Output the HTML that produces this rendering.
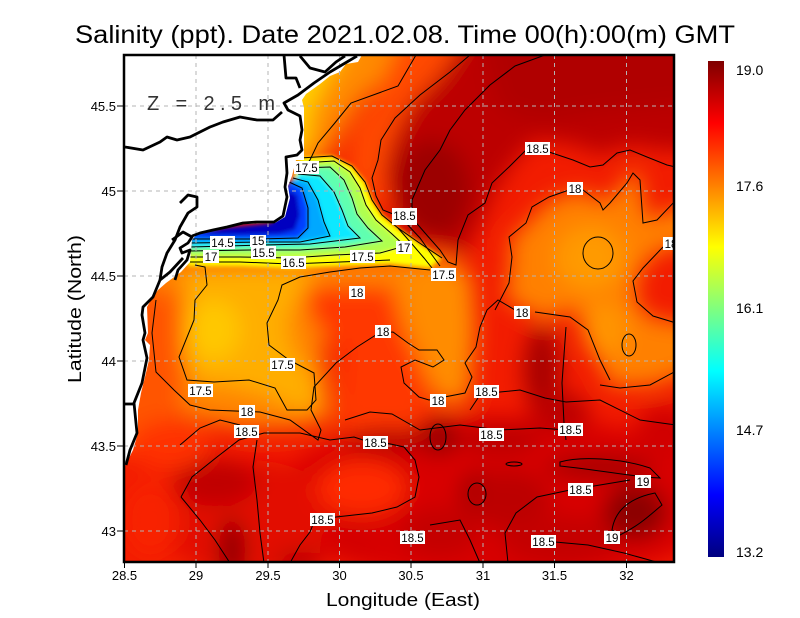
<!DOCTYPE html>
<html><head><meta charset="utf-8"><style>
html,body{margin:0;padding:0;background:#fff;}
svg{display:block;}
text{font-family:"Liberation Sans",Arial,sans-serif;}
</style></head><body>
<svg width="800" height="618" viewBox="0 0 800 618" xmlns="http://www.w3.org/2000/svg">
<defs>
<clipPath id="plot"><rect x="124" y="55" width="551" height="508"/></clipPath>
<filter id="b1" filterUnits="userSpaceOnUse" x="40" y="0" width="760" height="640"><feGaussianBlur stdDeviation="11"/></filter>
<filter id="b3" filterUnits="userSpaceOnUse" x="40" y="0" width="760" height="640"><feGaussianBlur stdDeviation="2.2"/></filter>
<linearGradient id="jet" x1="0" y1="1" x2="0" y2="0">
<stop offset="0" stop-color="#00007f"/>
<stop offset="0.125" stop-color="#0000ff"/>
<stop offset="0.375" stop-color="#00ffff"/>
<stop offset="0.625" stop-color="#ffff00"/>
<stop offset="0.875" stop-color="#ff0000"/>
<stop offset="1" stop-color="#7f0000"/>
</linearGradient>
</defs>
<rect width="800" height="618" fill="#fff"/>

<g clip-path="url(#plot)">
<rect x="100" y="40" width="600" height="540" fill="#f21c00"/>
<g filter="url(#b1)">
 <ellipse cx="500" cy="500" rx="230" ry="85" fill="#d80000"/>
 <ellipse cx="250" cy="520" rx="90" ry="60" fill="#e20800"/>
 <polygon fill="#bc0000" points="455,30 720,30 720,150 660,150 630,145 600,155 575,145 535,140 515,160 495,190 480,225 462,258 440,245 420,220 395,200 385,170 392,135 415,100 440,70"/>
 <polygon fill="#b00000" points="480,30 720,30 720,100 600,112 540,122 500,110"/>
 <ellipse cx="432" cy="190" rx="38" ry="50" fill="#9c0000"/>
 <polygon fill="#ff8a00" points="270,30 420,30 395,70 362,100 342,130 326,160 300,178 270,160"/>
 <polygon fill="#ffd000" points="270,40 352,40 328,78 312,110 306,150 275,150"/>
 <polygon fill="#ff4a00" points="405,30 470,30 440,75 410,105 392,140 382,180 386,210 362,200 346,170 352,130 376,95"/>
 <polygon fill="#ff8400" points="140,255 300,255 450,258 472,275 476,330 470,400 440,405 415,360 400,335 380,330 340,335 322,342 332,420 290,428 240,428 190,418 160,398 140,360"/>
 <polygon fill="#ffae00" points="185,272 250,268 320,270 302,290 287,320 292,350 315,380 318,405 300,412 270,396 230,386 195,382 182,356 186,315"/>
 <ellipse cx="214" cy="330" rx="26" ry="30" fill="#ffc800"/>
 <polygon fill="#ff3800" points="310,286 392,286 404,330 424,370 430,410 412,432 342,432 338,400 342,348 316,326 306,302"/>
 <polygon fill="#ff8c00" points="410,268 455,264 472,290 472,350 466,400 440,405 424,370 410,335 404,300"/>
 <polygon fill="#ff8000" points="505,300 510,265 510,240 530,220 550,200 580,190 600,200 615,195 630,172 640,175 645,215 660,215 700,200 700,245 660,250 640,270 635,300 650,318 700,325 700,370 650,386 610,386 590,345 575,310 545,320"/>
 <ellipse cx="590" cy="258" rx="35" ry="32" fill="#ff9a00"/>
 <ellipse cx="605" cy="330" rx="22" ry="28" fill="#ff9400"/>
 <polygon fill="#ff5500" points="110,290 178,290 186,380 176,420 150,452 110,452"/>
 <ellipse cx="542" cy="370" rx="18" ry="45" fill="#a80000"/>
 <ellipse cx="438" cy="437" rx="20" ry="18" fill="#900000"/>
 <ellipse cx="478" cy="494" rx="18" ry="22" fill="#960000"/>
 <ellipse cx="600" cy="467" rx="55" ry="11" fill="#a00000"/>
 <ellipse cx="635" cy="512" rx="32" ry="28" fill="#8c0000"/>
 <ellipse cx="232" cy="550" rx="13" ry="32" fill="#8c0000"/>
 <ellipse cx="300" cy="562" rx="22" ry="10" fill="#b00000"/>
 <ellipse cx="215" cy="482" rx="42" ry="24" fill="#c00000"/>
 <ellipse cx="390" cy="440" rx="45" ry="12" fill="#b60000"/>
 <ellipse cx="510" cy="500" rx="40" ry="30" fill="#bc0000"/>
 <ellipse cx="560" cy="540" rx="60" ry="25" fill="#c40000"/>
 <ellipse cx="440" cy="532" rx="40" ry="25" fill="#c40000"/>
 <ellipse cx="500" cy="440" rx="40" ry="15" fill="#bc0000"/>
 <ellipse cx="560" cy="412" rx="30" ry="20" fill="#bc0000"/>
 <ellipse cx="665" cy="430" rx="30" ry="25" fill="#d00000"/>
 <ellipse cx="350" cy="542" rx="30" ry="20" fill="#d40000"/>
 <ellipse cx="362" cy="488" rx="45" ry="28" fill="#ff2c00"/>
 <ellipse cx="170" cy="445" rx="40" ry="25" fill="#ff3000"/>
 <ellipse cx="150" cy="520" rx="30" ry="40" fill="#f82000"/>
</g>
<!-- plume -->
<g filter="url(#b3)">
 <polygon fill="#ffff00" points="300,158 332,156 352,166 365,182 372,200 382,215 398,228 418,242 442,258 430,268 390,264 340,266 290,268 240,266 188,266 186,258 200,246 270,245"/>
 <polygon fill="#b0ff50" points="302,163 334,161 350,172 360,188 366,205 376,220 392,234 405,246 380,253 335,255 290,258 240,257 188,257 188,249 270,246"/>
 <polygon fill="#60ffb0" points="300,168 330,167 344,180 352,198 357,214 368,228 382,241 345,247 300,250 250,250 190,251 190,245 270,242"/>
 <polygon fill="#10e8ff" points="298,174 320,176 334,192 342,210 348,226 360,238 310,244 262,245 190,247 190,241 275,234"/>
 <polygon fill="#00a8ff" points="293,178 308,182 318,200 324,222 330,236 300,242 262,242 190,243 190,236 275,229"/>
 <polygon fill="#0040ff" points="289,182 302,188 308,208 308,228 298,238 258,239 190,239 190,231 275,225"/>
 <polygon fill="#0000c0" points="285,188 297,195 300,215 295,230 280,234 240,235 200,235 222,228 272,223"/>
</g>
<g fill="none" stroke="#000" stroke-width="1">
 <polyline points="302,163 334,161 350,172 360,188 366,205 376,220 392,234 405,246 380,253 335,255 290,258 240,257 190,257"/>
 <polyline points="300,168 330,167 344,180 352,198 357,214 368,228 382,241 345,247 300,250 250,250 190,251"/>
 <polyline points="298,174 320,176 334,192 342,210 348,226 360,238 310,244 262,245 190,247"/>
 <polyline points="293,178 308,182 318,200 324,222 330,236 300,242 262,242 190,243"/>
 <polyline points="289,182 302,188 308,208 308,228 298,238 258,239 190,239"/>
 <polyline points="300,158 332,156 352,166 365,182 372,200 382,215 398,228 418,242 442,258"/>
 <polyline points="190,262 240,262 290,264 340,262 390,260"/>
</g>

<!-- land -->
<polygon fill="#fff" points="100,40 362,40 362,55 358,62 346,64 340,72 330,76 320,84 306,94 302,100 304,108 304,160 296,160 292,176 288,186 290,198 285,217 275,223 243,224 227,228 213,231 197,234 192,240 190,262 181,272 166,283 158,290 152,298 147,307 148,333 145,340 150,345 149,360 145,377 141,393 138,410 138,433 133,450 127,462 124,467 100,470"/>

<!-- grid -->
<g stroke="#b4b4b4" stroke-width="1" stroke-dasharray="4,4">
 <line x1="196" y1="55" x2="196" y2="563"/>
 <line x1="268" y1="55" x2="268" y2="563"/>
 <line x1="339.5" y1="55" x2="339.5" y2="563"/>
 <line x1="411" y1="55" x2="411" y2="563"/>
 <line x1="483" y1="55" x2="483" y2="563"/>
 <line x1="554.5" y1="55" x2="554.5" y2="563"/>
 <line x1="626.5" y1="55" x2="626.5" y2="563"/>
 <line x1="124" y1="106" x2="675" y2="106"/>
 <line x1="124" y1="191" x2="675" y2="191"/>
 <line x1="124" y1="276" x2="675" y2="276"/>
 <line x1="124" y1="361" x2="675" y2="361"/>
 <line x1="124" y1="446" x2="675" y2="446"/>
 <line x1="124" y1="531" x2="675" y2="531"/>
</g>

<!-- contours -->
<g fill="none" stroke="#000" stroke-width="1">
 <polyline points="416,55 398,86 351,103 334,124 318,143 310,160 305,166"/>
 <polyline points="470,55 450,72 420,95 395,118 381,140 378,160 372,178 376,196 383,210 398,216"/>
 <polyline points="545,55 515,66 490,85 465,110 450,130 440,150 425,170 412,200 412,218 425,233 440,250 448,262 456,265 458,240 468,215 485,203 492,183 509,167 526,150"/>
 <polyline points="405,222 420,238 432,255 440,266"/>
 <polyline points="398,228 412,244 424,258 432,268"/>
 <polyline points="549,152 573,160 590,167 603,165 617,153 630,150 647,157 667,165 680,168"/>
 <polyline points="495,310 509,283 512,257 509,237 526,223 532,207 549,197 569,190 583,190 600,203 603,210 610,203 627,183 633,173 640,180 643,223 657,220 676,200"/>
 <polyline points="663,247 643,268 633,281 637,302 653,316 676,323"/>
 <polyline points="600,385 620,388 650,385 676,371"/>
 <polyline points="535,312 570,317 588,330 600,360 610,380"/>
 <polyline points="566,327 562,383 564,423 566,440"/>
 <ellipse cx="598" cy="253" rx="15" ry="16"/>
 <ellipse cx="629" cy="345" rx="7" ry="11"/>
 <polyline points="195,265 205,267 207,285 195,300 194,320 179,357 187,380 214,382 249,380 275,388 287,410 307,410 316,400 314,373 289,360 269,345 267,323 278,300 282,285 300,277 330,272 360,268 390,266 430,270"/>
 <polyline points="156,300 152,333 156,372 174,390 190,405 210,410 235,411 260,412 290,420 318,440 321,430 311,410 314,387 336,363 357,347 379,333 393,332 408,343 419,350 437,350 444,360 433,367 415,360 401,367 404,383 419,397 429,400 465,393 472,377 465,363 476,347 480,327 487,310 498,300 515,310"/>
 <polyline points="181,497 192,477 217,457 239,440 264,433 300,433 330,440 354,437 372,443 386,443 404,447 415,460 419,477 415,497 397,507 372,513 336,517 314,522 310,532 300,545 290,563"/>
 <polyline points="181,497 200,520 215,540 230,563"/>
 <polyline points="257,440 253,467 257,500 260,533 264,563"/>
 <polyline points="508,563 505,533 516,513 537,497 570,490 600,485 630,480"/>
 <polyline points="555,542 588,545 624,553 660,563"/>
 <polyline points="430,525 460,520 470,540 480,563"/>
 <path d="M560,462 C580,456 620,458 650,468 L660,478 C640,478 600,470 560,466 Z"/>
 <path d="M612,530 C615,510 630,498 655,493 L662,505 C650,515 640,525 620,535 Z"/>
 <ellipse cx="438" cy="437" rx="8" ry="13"/>
 <ellipse cx="477" cy="494" rx="9" ry="11"/>
 <ellipse cx="514" cy="464" rx="8" ry="2"/>
 <polyline points="470,410 480,395 500,392 520,390 545,398 566,402 600,400 640,420 676,425"/>
 <polyline points="345,420 370,412 392,414 420,430 460,425 500,430 540,428 566,430"/>
 <polyline points="180,445 200,428 220,420 240,425"/>
</g>

<!-- coastline -->
<g fill="none" stroke="#000" stroke-width="2.8" stroke-linejoin="round">
 <polyline points="357,56 330,72 314,83 298,95 284,103 288,110 300,116 302,130 300,140 302,150 297,155 286,157 287,173 285,187 287,197 283,216 274,222 257,222 243,223 227,227 213,230 200,233 192,236"/>
 <polyline points="183,258 170,272 160,280 153,297 143,307 142,315 145,333 143,340 147,358 142,383 134,403 137,433 130,450 126,465"/>
 <polyline points="124,404 135,404"/>
 <polyline points="125,147 143,150 160,142 167,137 177,140 190,137 210,127 223,122 240,117 257,120 273,120 282,112"/>
 <polyline points="284,55 286,78 296,78 300,88"/>
 <polyline points="300,56 310,68 325,72 336,62 345,56"/>
 <polyline points="180,203 188,195 197,197 197,207 188,213 180,227 175,240 167,253 162,267 160,280"/>
 <polyline points="172,240 183,232 192,237 188,243 180,248 182,253 190,250 187,260 178,270 175,280"/>
</g>

<text x="147" y="110" font-size="20" fill="#333" textLength="128" lengthAdjust="spacing">Z = 2.5 m</text>

<!-- contour labels -->
<g font-size="11.5" text-anchor="middle" fill="#000">
<g fill="#fff">
 <rect x="294" y="161" width="25" height="13"/>
 <rect x="392" y="208" width="25" height="17"/>
 <rect x="396" y="241" width="16" height="13"/>
 <rect x="350" y="250" width="25" height="13"/>
 <rect x="281" y="256" width="25" height="13"/>
 <rect x="251" y="246" width="25" height="13"/>
 <rect x="250" y="235" width="16" height="12"/>
 <rect x="210" y="236" width="25" height="13"/>
 <rect x="203" y="250" width="16" height="13"/>
 <rect x="349" y="286" width="16" height="13"/>
 <rect x="431" y="268" width="25" height="13"/>
 <rect x="525" y="142" width="25" height="13"/>
 <rect x="567" y="182" width="16" height="13"/>
 <rect x="663" y="237" width="16" height="13"/>
 <rect x="375" y="325" width="16" height="13"/>
 <rect x="514" y="306" width="16" height="13"/>
 <rect x="270" y="358" width="25" height="13"/>
 <rect x="188" y="384" width="25" height="13"/>
 <rect x="239" y="405" width="16" height="13"/>
 <rect x="234" y="425" width="25" height="13"/>
 <rect x="430" y="394" width="16" height="13"/>
 <rect x="474" y="385" width="25" height="13"/>
 <rect x="363" y="436" width="25" height="13"/>
 <rect x="479" y="428" width="25" height="13"/>
 <rect x="558" y="423" width="25" height="13"/>
 <rect x="635" y="475" width="16" height="13"/>
 <rect x="568" y="483" width="25" height="13"/>
 <rect x="310" y="513" width="25" height="13"/>
 <rect x="400" y="531" width="25" height="13"/>
 <rect x="531" y="535" width="25" height="13"/>
 <rect x="604" y="531" width="16" height="13"/>
</g>
 <text x="306.5" y="172">17.5</text>
 <text x="404.5" y="220">18.5</text>
 <text x="404" y="252">17</text>
 <text x="362.5" y="261">17.5</text>
 <text x="293.5" y="267">16.5</text>
 <text x="263.5" y="257">15.5</text>
 <text x="258" y="245">15</text>
 <text x="222.5" y="247">14.5</text>
 <text x="211" y="261">17</text>
 <text x="357" y="297">18</text>
 <text x="443.5" y="279">17.5</text>
 <text x="537.5" y="153">18.5</text>
 <text x="575" y="193">18</text>
 <text x="671" y="248">18</text>
 <text x="383" y="336">18</text>
 <text x="522" y="317">18</text>
 <text x="282.5" y="369">17.5</text>
 <text x="200.5" y="395">17.5</text>
 <text x="247" y="416">18</text>
 <text x="246.5" y="436">18.5</text>
 <text x="438" y="405">18</text>
 <text x="486.5" y="396">18.5</text>
 <text x="375.5" y="447">18.5</text>
 <text x="491.5" y="439">18.5</text>
 <text x="570.5" y="434">18.5</text>
 <text x="643" y="486">19</text>
 <text x="580.5" y="494">18.5</text>
 <text x="322.5" y="524">18.5</text>
 <text x="412.5" y="542">18.5</text>
 <text x="543.5" y="546">18.5</text>
 <text x="612" y="542">19</text>
</g>
</g>

<rect x="124" y="55" width="550" height="507" fill="none" stroke="#000" stroke-width="2.5"/>

<g stroke="#000" stroke-width="1">
 <line x1="124.5" y1="563" x2="124.5" y2="568"/>
 <line x1="196" y1="563" x2="196" y2="568"/>
 <line x1="268" y1="563" x2="268" y2="568"/>
 <line x1="339.5" y1="563" x2="339.5" y2="568"/>
 <line x1="411" y1="563" x2="411" y2="568"/>
 <line x1="483" y1="563" x2="483" y2="568"/>
 <line x1="554.5" y1="563" x2="554.5" y2="568"/>
 <line x1="626.5" y1="563" x2="626.5" y2="568"/>
 <line x1="117" y1="106" x2="124" y2="106"/>
 <line x1="117" y1="191" x2="124" y2="191"/>
 <line x1="117" y1="276" x2="124" y2="276"/>
 <line x1="117" y1="361" x2="124" y2="361"/>
 <line x1="117" y1="446" x2="124" y2="446"/>
 <line x1="117" y1="531" x2="124" y2="531"/>
</g>
<g font-size="13" fill="#000" text-anchor="middle">
 <text x="124.5" y="580">28.5</text>
 <text x="196" y="580">29</text>
 <text x="268" y="580">29.5</text>
 <text x="339.5" y="580">30</text>
 <text x="411" y="580">30.5</text>
 <text x="483" y="580">31</text>
 <text x="554.5" y="580">31.5</text>
 <text x="626.5" y="580">32</text>
</g>
<g font-size="13" fill="#000" text-anchor="end">
 <text x="116" y="111">45.5</text>
 <text x="116" y="196">45</text>
 <text x="116" y="281">44.5</text>
 <text x="116" y="366">44</text>
 <text x="116" y="451">43.5</text>
 <text x="116" y="536">43</text>
</g>

<rect x="708" y="61" width="16" height="496" fill="url(#jet)"/>
<g font-size="14" fill="#000">
 <text x="736" y="75">19.0</text>
 <text x="736" y="191">17.6</text>
 <text x="736" y="313">16.1</text>
 <text x="736" y="435">14.7</text>
 <text x="736" y="557">13.2</text>
</g>

<text x="75" y="43" font-size="25" fill="#000" textLength="660" lengthAdjust="spacingAndGlyphs">Salinity (ppt). Date 2021.02.08. Time 00(h):00(m) GMT</text>
<text x="326" y="606" font-size="18" fill="#000" textLength="154" lengthAdjust="spacingAndGlyphs">Longitude (East)</text>
<text transform="translate(81,383) rotate(-90)" x="0" y="0" font-size="18" fill="#000" textLength="148" lengthAdjust="spacingAndGlyphs">Latitude (North)</text>
</svg>
</body></html>
